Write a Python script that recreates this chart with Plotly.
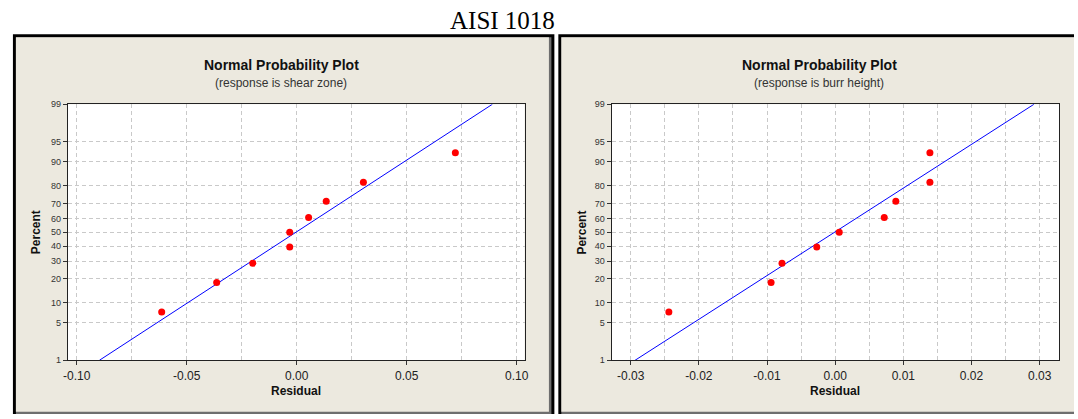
import plotly.graph_objects as go
from statistics import NormalDist

nd = NormalDist()

# ---------------- data ----------------
plot_positions_pct = [7.4, 18.1, 28.7, 39.4, 50.0, 60.6, 71.3, 81.9, 92.6]

shear_residuals = [-0.0614, -0.0364, -0.0200, -0.0032, -0.0032, 0.0054, 0.0134, 0.0303, 0.0721]
burr_residuals = [-0.0244, -0.0094, -0.0078, -0.0027, 0.0006, 0.0072, 0.0089, 0.0139, 0.0139]

# fitted normal reference line: (mean, standard deviation)
shear_fit = (-0.0004, 0.0384)
burr_fit = (-0.0001, 0.01258)

y_tick_pcts = [1, 5, 10, 20, 30, 40, 50, 60, 70, 80, 90, 95, 99]
y_tick_labels = ["1", "5", "10", "20", "30", "40", "50", "60", "70", "80", "90", "95", "99"]

x1_tick_vals = [-0.10, -0.05, 0.00, 0.05, 0.10]
x1_tick_labels = ["-0.10", "-0.05", "0.00", "0.05", "0.10"]
x1_grid_vals = [-0.10, -0.075, -0.05, -0.025, 0.0, 0.025, 0.05, 0.075, 0.10]

x2_tick_vals = [-0.03, -0.02, -0.01, 0.00, 0.01, 0.02, 0.03]
x2_tick_labels = ["-0.03", "-0.02", "-0.01", "0.00", "0.01", "0.02", "0.03"]
x2_grid_vals = [-0.03, -0.025, -0.02, -0.015, -0.01, -0.005, 0.0, 0.005, 0.01,
                0.015, 0.02, 0.025, 0.03]

main_title = "AISI 1018"
panel_titles = ["Normal Probability Plot", "Normal Probability Plot"]
panel_subtitles = ["(response is shear zone)", "(response is burr height)"]

# ---------------- geometry helpers ----------------
W, H = 1078, 419


def px(x):
    return x / W


def py(y):
    return 1 - y / H


z_lo, z_hi = nd.inv_cdf(0.01), nd.inv_cdf(0.99)
y_tick_z = [nd.inv_cdf(p / 100) for p in y_tick_pcts]

BEIGE = "#ece9df"
GRID = "#c9c9c9"
SANS = "Liberation Sans, Arial, sans-serif"

fig = go.Figure()

for resid, fit, xa, ya in [(shear_residuals, shear_fit, "x", "y"),
                           (burr_residuals, burr_fit, "x2", "y2")]:
    mu, sd = fit
    fig.add_trace(go.Scatter(
        x=[mu + z_lo * sd, mu + z_hi * sd], y=[z_lo, z_hi],
        mode="lines", line=dict(color="#0000ff", width=1),
        xaxis=xa, yaxis=ya, hoverinfo="skip", showlegend=False))
    fig.add_trace(go.Scatter(
        x=resid, y=[nd.inv_cdf(p / 100) for p in plot_positions_pct],
        mode="markers", marker=dict(color="#ff0000", size=7),
        xaxis=xa, yaxis=ya, showlegend=False, cliponaxis=False))

common_x = dict(ticks="outside", ticklen=4, tickcolor="#333", showline=True,
                mirror=True, linecolor="#222", linewidth=1, zeroline=False,
                showgrid=True, gridcolor=GRID, griddash="4px,3px", gridwidth=1,
                tickfont=dict(family=SANS, size=12, color="#222"))
common_y = dict(ticks="outside", ticklen=4, tickcolor="#333", showline=True,
                mirror=True, linecolor="#222", linewidth=1, zeroline=False,
                showgrid=True, gridcolor=GRID, griddash="4px,3px", gridwidth=1,
                range=[z_lo, z_hi], tickmode="array", tickvals=y_tick_z,
                ticktext=y_tick_labels,
                tickfont=dict(family=SANS, size=9, color="#333"))

fig.update_layout(
    width=W, height=H,
    margin=dict(l=0, r=0, t=0, b=0),
    paper_bgcolor="white", plot_bgcolor="white",
    xaxis=dict(domain=[px(63.3), px(524)], range=[-0.1041, 0.1036],
               tickmode="array", tickvals=x1_tick_vals, ticktext=x1_tick_labels,
               minor=dict(tickvals=x1_grid_vals, showgrid=True, gridcolor=GRID,
                          griddash="4px,3px", ticks=""),
               anchor="y", **common_x),
    yaxis=dict(domain=[py(364), py(101.7)], anchor="x", **common_y),
    xaxis2=dict(domain=[px(611.7), px(1063.3)], range=[-0.0328, 0.0329],
                tickmode="array", tickvals=x2_tick_vals, ticktext=x2_tick_labels,
                minor=dict(tickvals=x2_grid_vals, showgrid=True, gridcolor=GRID,
                           griddash="4px,3px", ticks=""),
                anchor="y2", **common_x),
    yaxis2=dict(domain=[py(364), py(101.7)], anchor="x2", **common_y),
)

shapes = []


def prect(x0, y0, x1, y1, color):
    return dict(type="rect", xref="paper", yref="paper", x0=px(x0), x1=px(x1),
                y0=py(y1), y1=py(y0), fillcolor=color, line=dict(width=0),
                layer="below")


# left panel frame
shapes.append(prect(8, 30, 554, 419, "#000000"))
shapes.append(prect(11, 33, 551, 419, "#6e6e6e"))
shapes.append(prect(11, 33, 548.5, 416.7, BEIGE))
# right panel frame
shapes.append(prect(558, 30, 1078, 419, "#000000"))
shapes.append(prect(561, 33, 1078, 419, "#6e6e6e"))
shapes.append(prect(561, 33, 1078, 416.7, BEIGE))
# white plot areas
for xr, yr in [("x domain", "y domain"), ("x2 domain", "y2 domain")]:
    shapes.append(dict(type="rect", xref=xr, yref=yr, x0=0, x1=1, y0=0, y1=1,
                       fillcolor="white", line=dict(width=0), layer="below"))
fig.update_layout(shapes=shapes)

ann = []
ann.append(dict(text=main_title, x=px(501.7), y=py(16), xref="paper", yref="paper",
                showarrow=False, xanchor="center", yanchor="middle",
                font=dict(family="Liberation Serif, Times New Roman, serif",
                          size=25, color="black")))
for cx, t, s in [(278.7, panel_titles[0], panel_subtitles[0]),
                 (821, panel_titles[1], panel_subtitles[1])]:
    ann.append(dict(text="<b>" + t + "</b>", x=px(cx), y=py(61.7), xref="paper",
                    yref="paper", showarrow=False, xanchor="center", yanchor="middle",
                    font=dict(family=SANS, size=14, color="#111")))
    ann.append(dict(text=s, x=px(cx), y=py(80), xref="paper", yref="paper",
                    showarrow=False, xanchor="center", yanchor="middle",
                    font=dict(family=SANS, size=12, color="#333")))
for cx in [293.5, 837.3]:
    ann.append(dict(text="<b>Residual</b>", x=px(cx), y=py(395), xref="paper",
                    yref="paper", showarrow=False, xanchor="center", yanchor="middle",
                    font=dict(family=SANS, size=12, color="#111")))
for cx in [32, 582]:
    ann.append(dict(text="<b>Percent</b>", x=px(cx), y=py(233), xref="paper",
                    yref="paper", showarrow=False, xanchor="center", yanchor="middle",
                    textangle=-90, font=dict(family=SANS, size=12, color="#111")))
fig.update_layout(annotations=ann)

fig.write_html(
    "out.html",
    config={"displayModeBar": False},
    post_script="document.body.style.margin='0';document.body.style.padding='0';"
                "document.body.style.overflow='hidden';",
)
